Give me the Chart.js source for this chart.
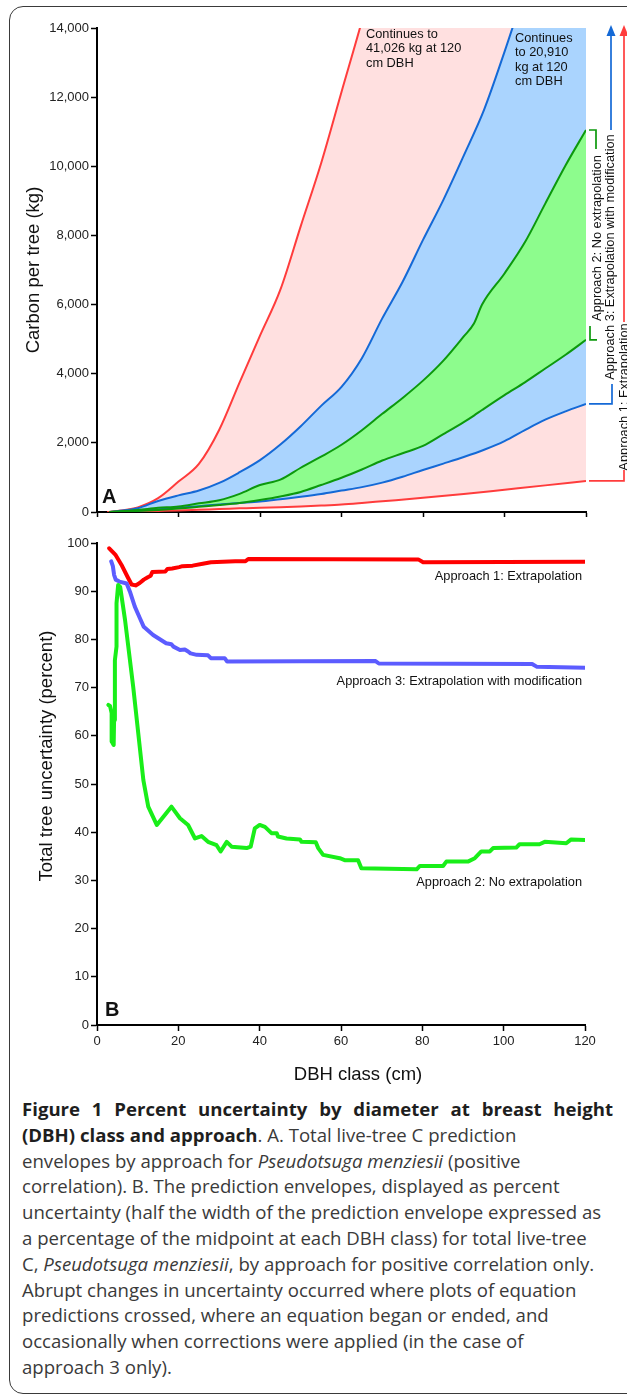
<!DOCTYPE html>
<html>
<head>
<meta charset="utf-8">
<script src="https://cdn.jsdelivr.net/npm/chart.js@4.4.1/dist/chart.umd.min.js"></script>
<style>
  html, body { margin: 0; padding: 0; background: #fff; }
  body { width: 627px; height: 1396px; position: relative; overflow: hidden; }
  .frame { position: absolute; left: 9px; top: 6px; width: 640px; height: 1388px; border: 1.5px solid #3a3a3a; border-radius: 14px; box-sizing: border-box; }
  #chartA { position: absolute; left: 0; top: 0; }
  #chartB { position: absolute; left: 0; top: 520px; }
  .caption { position: absolute; left: 22px; top: 1096px; font-family: 'Open Sans', sans-serif; font-size: 18.6px; line-height: 25.8px; color: #3a3a3a; white-space: nowrap; }
  .caption b { color: #1e1e1e; }
  .caption .first { word-spacing: 7px; }
</style>
</head>
<body>
<div class="frame"></div>
<canvas id="chartA" width="627" height="530"></canvas>
<canvas id="chartB" width="627" height="575"></canvas>
<div class="caption">
  <div class="first"><b>Figure 1 Percent uncertainty by diameter at breast height</b></div>
  <div><b>(DBH) class and approach</b>. A. Total live-tree C prediction</div>
  <div>envelopes by approach for <i>Pseudotsuga menziesii</i> (positive</div>
  <div>correlation). B. The prediction envelopes, displayed as percent</div>
  <div>uncertainty (half the width of the prediction envelope expressed as</div>
  <div>a percentage of the midpoint at each DBH class) for total live-tree</div>
  <div>C, <i>Pseudotsuga menziesii</i>, by approach for positive correlation only.</div>
  <div>Abrupt changes in uncertainty occurred where plots of equation</div>
  <div>predictions crossed, where an equation began or ended, and</div>
  <div>occasionally when corrections were applied (in the case of</div>
  <div>approach 3 only).</div>
</div>
<script>
// =====================
// PANEL A : carbon (kg)
// =====================
// Approach 1 (extrapolation) envelope
const redDbh   = [2.5, 5, 10, 15, 20, 25, 30, 35, 40, 45, 50, 55, 60, 65, 70, 80, 90, 100, 110, 120];
const redUpper = [0, 30, 135, 400, 880, 1390, 2380, 3750, 5100, 6430, 8270, 10090, 12150, 14200, 16400, 20700, 25400, 30300, 35500, 41026];
const redLower = [0, 5, 15, 30, 45, 65, 85, 105, 125, 140, 160, 185, 215, 260, 310, 410, 520, 645, 770, 900];

// Approach 3 (extrapolation with modification) envelope
const blueDbh   = [3, 5, 10, 15, 20, 25, 30, 35, 40, 45, 50, 55, 60, 65, 70, 75, 80, 85, 90, 95, 100, 105, 110, 115, 120];
const blueUpper = [0, 25, 110, 320, 480, 620, 840, 1150, 1500, 1950, 2480, 3070, 3620, 4450, 5600, 6660, 7870, 9030, 10310, 11640, 13310, 15100, 16900, 18900, 20910];
const blueLower = [0, 10, 40, 80, 120, 170, 220, 260, 300, 370, 440, 520, 620, 720, 850, 1020, 1215, 1400, 1590, 1800, 2050, 2370, 2670, 2910, 3125];

// Approach 2 (no extrapolation) envelope
const greenDbh   = [3, 5, 10, 15, 20, 25, 30, 35, 40, 45, 50, 55, 60, 65, 70, 75, 80, 85, 90, 92.5, 94.5, 100, 105, 110, 115, 120];
const greenUpper = [0, 15, 60, 120, 160, 250, 340, 525, 780, 935, 1280, 1600, 1945, 2365, 2840, 3300, 3800, 4380, 5080, 5450, 6000, 6900, 7800, 8920, 10030, 11050];
const greenLower = [0, 8, 30, 60, 100, 150, 200, 260, 347, 450, 580, 780, 990, 1230, 1490, 1700, 1910, 2250, 2600, 2790, 2950, 3380, 3750, 4150, 4550, 4980];

const noteRed  = ['Continues to', '41,026 kg at 120', 'cm DBH'];
const noteBlue = ['Continues', 'to 20,910', 'kg at 120', 'cm DBH'];

// ==========================
// PANEL B : uncertainty (%)
// ==========================
const unc1Dbh = [3, 4.5, 6, 7.5, 8.5, 9.5, 10.5, 11.5, 12.5, 13.2, 13.6, 16.8, 17.3, 18.5, 20.2, 21, 23.5, 26, 28, 31, 34, 36.5, 37.2, 79, 80.2, 120];
const unc1    = [98.9, 97.6, 95.5, 93, 91.4, 91.2, 91.7, 92.4, 92.9, 93.2, 94.0, 94.1, 94.6, 94.7, 95.0, 95.2, 95.3, 95.7, 96.0, 96.1, 96.2, 96.2, 96.7, 96.6, 96.0, 96.1];

const unc3Dbh = [3.5, 3.9, 4.2, 4.6, 5.5, 7.3, 8.1, 9.3, 10.5, 11.5, 13.8, 17, 18.3, 18.8, 20.4, 21.6, 22.4, 23, 24.5, 27.3, 28, 31.4, 32, 68.5, 69.3, 107, 108.2, 120];
const unc3    = [96.2, 95.2, 93.4, 92.4, 92.0, 91.6, 89.9, 86.8, 84.5, 82.6, 80.9, 79.2, 79.0, 78.5, 77.8, 77.9, 77.5, 77.1, 76.8, 76.7, 76.1, 76.1, 75.4, 75.5, 75.0, 74.9, 74.3, 74.1];

const unc2Dbh = [2.8, 3.2, 3.6, 3.6, 4.1, 4.2, 4.4, 4.8, 4.8, 5.2, 5.7, 6.9, 8.9, 11.4, 12.6, 14.7, 18.3, 20.4, 22.4, 24.1,
                 25.7, 27.3, 29.4, 30.4, 31.9, 33.1, 36.8, 37.8, 38.8, 40, 41.3, 42.9, 44.2, 44.5, 46.6, 49.9, 50.3, 53.8, 54.4, 55.6,
                 59.7, 60.9, 64.2, 65, 78.6, 79.4, 85.1, 85.9, 91.2, 92.9, 94.5, 96.6, 97.4, 103.1, 103.9, 108.8, 110.1, 115.4, 116.6, 120];
const unc2    = [66.4, 66.2, 64.7, 58.8, 58.1, 63.3, 75.7, 78.5, 87.5, 91.3, 90.9, 84.0, 70.2, 50.8, 45.3, 41.5, 45.3, 42.9, 41.5, 38.7,
                 39.2, 38.0, 37.3, 36.0, 38.0, 37.0, 36.7, 37.0, 40.8, 41.5, 41.1, 39.8, 39.8, 39.1, 38.7, 38.5, 38.0, 37.9, 36.7, 35.3,
                 34.6, 34.2, 34.2, 32.5, 32.3, 33.0, 33.0, 33.9, 33.9, 34.6, 36.0, 36.0, 36.7, 36.8, 37.5, 37.5, 38.0, 37.7, 38.5, 38.4];

const labelsB = ['Approach 1: Extrapolation', 'Approach 3: Extrapolation with modification', 'Approach 2: No extrapolation'];

// couleurs
const RED_A = '#ff3c3c', BLUE_A = '#1469d6', GREEN_A = '#0c990c';
const PINK = '#ffe0e0', LBLUE = '#aad4fe', LGREEN = '#8dfc8d';
const RED_B = '#ff0000', BLUE_B = '#5c5cff', GREEN_B = '#19ee19';
const FONT = "'Liberation Sans', Arial, sans-serif";
const NOTE_FONT = '12.8px ' + FONT;
const TITLE_FONT = '18.5px ' + FONT;

const toXY = (xs, ys) => xs.map((x, i) => ({ x: x, y: ys[i] }));

function linePath(ctx, color, pts) {
    ctx.strokeStyle = color;
    ctx.lineWidth = 1.7;
    ctx.beginPath();
    pts.forEach((p, i) => i ? ctx.lineTo(p[0], p[1]) : ctx.moveTo(p[0], p[1]));
    ctx.stroke();
}
function arrowHead(ctx, color, x, y) {
    ctx.fillStyle = color;
    ctx.beginPath();
    ctx.moveTo(x, y);
    ctx.lineTo(x - 4.5, y + 11);
    ctx.lineTo(x + 4.5, y + 11);
    ctx.closePath();
    ctx.fill();
}
function vText(ctx, text, x, y) {
    ctx.save();
    ctx.translate(x, y);
    ctx.rotate(-Math.PI / 2);
    ctx.textAlign = 'center';
    ctx.textBaseline = 'middle';
    ctx.fillText(text, 0, 0);
    ctx.restore();
}

const annotA = {
    id: 'annotA',
    afterDraw(chart) {
        const ctx = chart.ctx;
        const y = chart.scales.y;
        ctx.save();
        ctx.fillStyle = '#111';
        ctx.font = NOTE_FONT;
        ctx.textAlign = 'left';
        ctx.textBaseline = 'middle';
        noteRed.forEach((t, i) => ctx.fillText(t, 366, 34 + i * 14.6));
        noteBlue.forEach((t, i) => ctx.fillText(t, 515, 38 + i * 14.6));
        ctx.font = 'bold 20px ' + FONT;
        ctx.fillText('A', 102, 497);

        // accolades / fleches a droite
        const gTop = y.getPixelForValue(greenUpper[greenUpper.length - 1]);
        const gBot = y.getPixelForValue(greenLower[greenLower.length - 1]);
        const bBot = y.getPixelForValue(blueLower[blueLower.length - 1]);
        const rBot = y.getPixelForValue(redLower[redLower.length - 1]);
        linePath(ctx, GREEN_A, [[589, gTop], [596, gTop], [596, 149]]);
        linePath(ctx, GREEN_A, [[590, 326], [590, gBot], [597, gBot]]);
        linePath(ctx, BLUE_A, [[611, 130], [611, 34]]);
        arrowHead(ctx, BLUE_A, 611, 25);
        linePath(ctx, BLUE_A, [[589, bBot], [612, bBot], [612, 384]]);
        linePath(ctx, RED_A, [[624, 322], [624, 34]]);
        arrowHead(ctx, RED_A, 624, 25);
        linePath(ctx, RED_A, [[589, rBot], [624, rBot], [624, 470]]);

        ctx.fillStyle = '#111';
        ctx.font = NOTE_FONT;
        vText(ctx, 'Approach 2: No extrapolation', 597, 238);
        vText(ctx, 'Approach 3: Extrapolation with modification', 610, 257);
        vText(ctx, 'Approach 1: Extrapolation', 624, 397);
        ctx.restore();
    }
};

const annotB = {
    id: 'annotB',
    afterDraw(chart) {
        const ctx = chart.ctx;
        ctx.save();
        ctx.fillStyle = '#111';
        ctx.font = NOTE_FONT;
        ctx.textAlign = 'right';
        ctx.textBaseline = 'middle';
        ctx.fillText(labelsB[0], 582, 56);
        ctx.fillText(labelsB[1], 582, 161);
        ctx.fillText(labelsB[2], 582, 362);
        ctx.textAlign = 'left';
        ctx.font = 'bold 20px ' + FONT;
        ctx.fillText('B', 105, 490);
        ctx.font = TITLE_FONT;
        vText(ctx, 'Total tree uncertainty (percent)', 47, 236);
        ctx.textAlign = 'center';
        ctx.fillText('DBH class (cm)', 358, 555);
        ctx.restore();
    }
};

function tickFont() {
    return { family: FONT, size: 13 };
}

// ---------- Graphique A ----------
new Chart(document.getElementById('chartA'), {
    type: 'line',
    data: {
        datasets: [
            { data: toXY(redDbh, redUpper), borderColor: RED_A, backgroundColor: PINK, fill: '+1', order: 3 },
            { data: toXY(redDbh, redLower), borderColor: RED_A, fill: false, order: 3 },
            { data: toXY(blueDbh, blueUpper), borderColor: BLUE_A, backgroundColor: LBLUE, fill: '+1', order: 2 },
            { data: toXY(blueDbh, blueLower), borderColor: BLUE_A, fill: false, order: 2 },
            { data: toXY(greenDbh, greenUpper), borderColor: GREEN_A, backgroundColor: LGREEN, fill: '+1', order: 1 },
            { data: toXY(greenDbh, greenLower), borderColor: GREEN_A, fill: false, order: 1 }
        ]
    },
    options: {
        responsive: false,
        animation: false,
        layout: { padding: { left: 0, right: 41, top: 28, bottom: 0 } },
        elements: {
            point: { radius: 0 },
            line: { borderWidth: 2, cubicInterpolationMode: 'monotone' }
        },
        plugins: {
            legend: { display: false },
            tooltip: { enabled: false },
            filler: { drawTime: 'beforeDatasetsDraw' }
        },
        scales: {
            x: {
                type: 'linear', min: 0, max: 120,
                afterFit: s => { s.height = 18; },
                ticks: { stepSize: 20, color: 'transparent', font: tickFont() },
                grid: { drawOnChartArea: false, tickColor: '#000', tickLength: 5, tickWidth: 1.5 },
                border: { color: '#000', width: 2 }
            },
            y: {
                min: 0, max: 14000,
                afterFit: s => { s.width = 97; },
                ticks: { stepSize: 2000, color: '#222', font: tickFont(), padding: 2 },
                grid: { drawOnChartArea: false, tickColor: '#000', tickLength: 6, tickWidth: 1.5 },
                border: { color: '#000', width: 2 },
                title: { display: true, text: 'Carbon per tree (kg)', color: '#111', font: { family: FONT, size: 18.5 }, padding: { top: 23, bottom: 0 } }
            }
        }
    },
    plugins: [annotA]
});

// ---------- Graphique B ----------
new Chart(document.getElementById('chartB'), {
    type: 'line',
    data: {
        datasets: [
            { data: toXY(unc2Dbh, unc2), borderColor: GREEN_B },
            { data: toXY(unc3Dbh, unc3), borderColor: BLUE_B },
            { data: toXY(unc1Dbh, unc1), borderColor: RED_B }
        ]
    },
    options: {
        responsive: false,
        animation: false,
        layout: { padding: { left: 0, right: 42, top: 23, bottom: 0 } },
        elements: {
            point: { radius: 0 },
            line: { borderWidth: 4, tension: 0, fill: false, borderJoinStyle: 'round', borderCapStyle: 'round' }
        },
        plugins: { legend: { display: false }, tooltip: { enabled: false } },
        scales: {
            x: {
                type: 'linear', min: 0, max: 120,
                afterFit: s => { s.height = 70; },
                ticks: { stepSize: 20, color: '#222', font: tickFont(), padding: 3, maxRotation: 0 },
                grid: { drawOnChartArea: false, tickColor: '#000', tickLength: 6, tickWidth: 1.5 },
                border: { color: '#000', width: 2 }
            },
            y: {
                min: 0, max: 100,
                afterFit: s => { s.width = 97; },
                ticks: { stepSize: 10, color: '#222', font: tickFont(), padding: 2 },
                grid: { drawOnChartArea: false, tickColor: '#000', tickLength: 6, tickWidth: 1.5 },
                border: { color: '#000', width: 2 }
            }
        }
    },
    plugins: [annotB]
});
</script>
</body>
</html>
